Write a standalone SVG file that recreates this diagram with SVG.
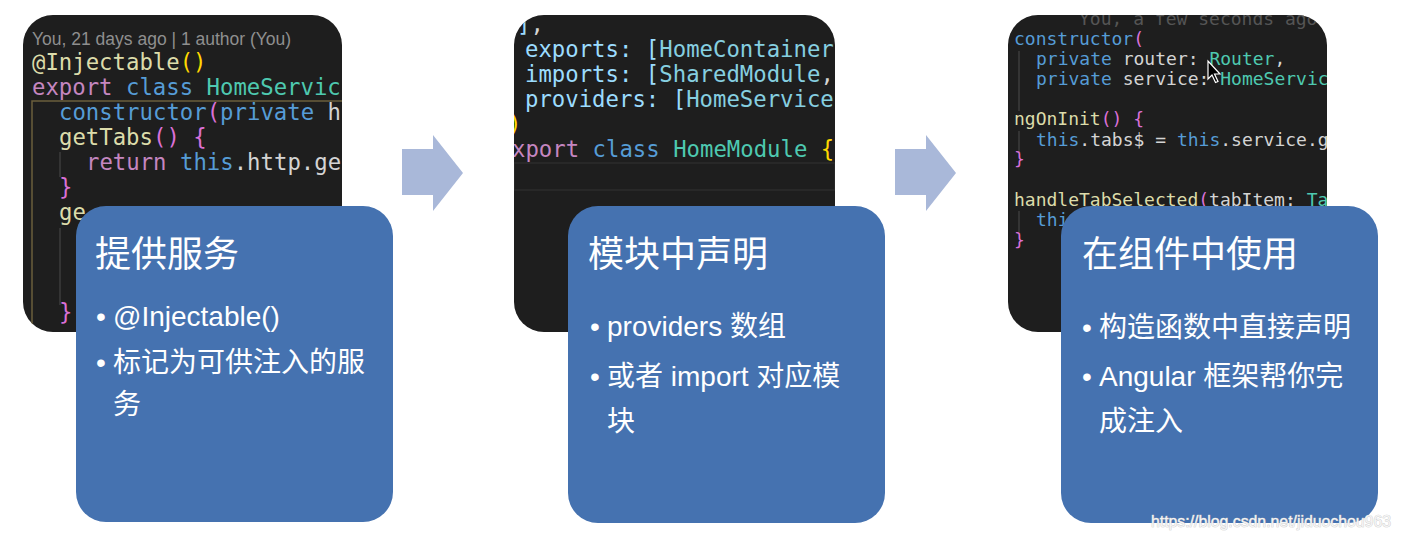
<svg xmlns="http://www.w3.org/2000/svg" width="1402" height="540" viewBox="0 0 1402 540">
<style>
.panel{fill:#1e1e1e}
.box{fill:#4572b0}
.code{font-family:"DejaVu Sans Mono","Liberation Mono",monospace;font-size:22.3px;fill:#d4d4d4;white-space:pre}
.code3{font-family:"DejaVu Sans Mono","Liberation Mono",monospace;font-size:18px;fill:#d4d4d4;white-space:pre}
.kw{fill:#c586c0}
.bl{fill:#569cd6}
.ty{fill:#4ec9b0}
.fn{fill:#dcdcaa}
.gd{fill:#ffd700}
.pk{fill:#da70d6}
.pr{fill:#9cdcfe}
.nm{fill:#86cfe0}
.faint{fill:#555555}
.blame{font-family:"Liberation Sans","Noto Sans",sans-serif;font-size:17.5px;fill:#8f8f8f}
.guide{stroke:#3c3c3c;stroke-width:1.5;fill:none}
.title{font-family:"Liberation Sans","Noto Sans CJK SC",sans-serif;font-size:36px;fill:#ffffff}
.item{font-family:"Liberation Sans","Noto Sans CJK SC",sans-serif;font-size:28px;fill:#ffffff}
.arrow{fill:#a9b8d9}
.wm{font-family:"Liberation Sans",sans-serif;font-size:16px;fill:#f4f4f4;stroke:#c4c4c4;stroke-width:0.7;paint-order:stroke}
</style>
<defs>
<clipPath id="c1"><rect x="23" y="15" width="319" height="317" rx="30"/></clipPath>
<clipPath id="c2"><rect x="514" y="15" width="321" height="317" rx="30"/></clipPath>
<clipPath id="c3"><rect x="1008" y="15" width="319" height="317" rx="30"/></clipPath>
</defs>
<rect width="1402" height="540" fill="#ffffff"/>

<g id="connectors">
<polygon class="arrow" points="402,149 433,149 433,135 463,173 433,211 433,195 402,195"/>
<polygon class="arrow" points="895,149 926,149 926,135 956,173 926,211 926,195 895,195"/>
</g>

<g id="node-provide">
<rect class="panel" x="23" y="15" width="319" height="317" rx="30"/>
<g clip-path="url(#c1)">
<path d="M32,332 V101 H342" stroke="#6b5f3c" stroke-width="1.5" fill="none"/>
<path class="guide" d="M60,152 V177 M60,228 V305"/>
<text class="blame" x="32" y="45">You, 21 days ago | 1 author (You)</text>
<text class="code" x="32" y="70"><tspan class="fn">@Injectable</tspan><tspan class="gd">()</tspan></text>
<text class="code" x="32" y="95"><tspan class="kw">export</tspan> <tspan class="bl">class</tspan> <tspan class="ty">HomeServic</tspan></text>
<text class="code" x="59" y="120"><tspan class="bl">constructor</tspan><tspan class="pk">(</tspan><tspan class="bl">private</tspan> h</text>
<text class="code" x="59" y="145"><tspan class="fn">getTabs</tspan><tspan class="pk">()</tspan> <tspan class="pk">{</tspan></text>
<text class="code" x="86" y="170"><tspan class="kw">return</tspan> <tspan class="bl">this</tspan>.http.ge</text>
<text class="code" x="59" y="195"><tspan class="pk">}</tspan></text>
<text class="code" x="59" y="220"><tspan class="fn">ge</tspan></text>
<text class="code" x="59" y="320"><tspan class="pk">}</tspan></text>
</g>
<rect class="box" x="76" y="206" width="317" height="316" rx="30"/>
<text class="title" x="95" y="267">提供服务</text>
<text class="item" x="96" y="326">•</text>
<text class="item" x="113" y="326">@Injectable()</text>
<text class="item" x="96" y="372">•</text>
<text class="item" x="113" y="372">标记为可供注入的服</text>
<text class="item" x="113" y="414">务</text>
</g>

<g id="node-declare">
<rect class="panel" x="514" y="15" width="321" height="317" rx="30"/>
<g clip-path="url(#c2)">
<rect x="514" y="163" width="321" height="27" fill="none" stroke="#2c2c2c" stroke-width="1.5"/>
<text class="code" x="517" y="32"><tspan class="pr">]</tspan>,</text>
<text class="code" x="525" y="57"><tspan class="pr">exports:</tspan> <tspan class="pr">[</tspan><tspan class="nm">HomeContainer</tspan></text>
<text class="code" x="525" y="82"><tspan class="pr">imports:</tspan> <tspan class="pr">[</tspan><tspan class="nm">SharedModule</tspan>,</text>
<text class="code" x="525" y="107"><tspan class="pr">providers:</tspan> <tspan class="pr">[</tspan><tspan class="nm">HomeService</tspan></text>
<text class="code" x="508" y="132"><tspan class="gd">)</tspan></text>
<text class="code" x="512" y="157"><tspan class="kw">xport</tspan> <tspan class="bl">class</tspan> <tspan class="ty">HomeModule</tspan> <tspan class="gd">{</tspan></text>
</g>
<rect class="box" x="568" y="206" width="317" height="317" rx="30"/>
<text class="title" x="588" y="267">模块中声明</text>
<text class="item" x="590" y="336">•</text>
<text class="item" x="607" y="336">providers 数组</text>
<text class="item" x="590" y="386">•</text>
<text class="item" x="607" y="386">或者 import 对应模</text>
<text class="item" x="607" y="431">块</text>
</g>

<g id="node-use">
<rect class="panel" x="1008" y="15" width="319" height="317" rx="30"/>
<g clip-path="url(#c3)">
<path class="guide" d="M1019,51 V111 M1019,131 V152 M1019,211 V232"/>
<text class="code3 faint" x="1079" y="25">You, a few seconds ago</text>
<text class="code3" x="1014" y="45"><tspan class="bl">constructor</tspan><tspan class="pk">(</tspan></text>
<text class="code3" x="1036" y="65"><tspan class="bl">private</tspan> router: <tspan class="ty">Router</tspan>,</text>
<text class="code3" x="1036" y="85"><tspan class="bl">private</tspan> service: <tspan class="ty">HomeServic</tspan></text>
<text class="code3" x="1014" y="125"><tspan class="fn">ngOnInit</tspan><tspan class="pk">()</tspan> <tspan class="pk">{</tspan></text>
<text class="code3" x="1036" y="146"><tspan class="bl">this</tspan>.tabs$ = <tspan class="bl">this</tspan>.service.g</text>
<text class="code3" x="1014" y="165"><tspan class="pk">}</tspan></text>
<text class="code3" x="1014" y="206"><tspan class="fn">handleTabSelected</tspan><tspan class="pk">(</tspan>tabItem: <tspan class="ty">Ta</tspan></text>
<text class="code3" x="1036" y="226"><tspan class="bl">thi</tspan></text>
<text class="code3" x="1014" y="246"><tspan class="pk">}</tspan></text>
<polygon points="1208,61 1208,79 1212,75 1215.5,82.5 1218,81.5 1214.5,74 1220,74" fill="#000000" stroke="#ffffff" stroke-width="1.2"/>
</g>
<rect class="box" x="1061" y="206" width="317" height="317" rx="30"/>
<text class="title" x="1082" y="267">在组件中使用</text>
<text class="item" x="1082" y="337">•</text>
<text class="item" x="1099" y="337">构造函数中直接声明</text>
<text class="item" x="1082" y="386">•</text>
<text class="item" x="1099" y="386">Angular 框架帮你完</text>
<text class="item" x="1099" y="431">成注入</text>
</g>

<text class="wm" x="1151" y="527" textLength="240" lengthAdjust="spacingAndGlyphs">https://blog.csdn.net/jiduochou963</text>
</svg>
